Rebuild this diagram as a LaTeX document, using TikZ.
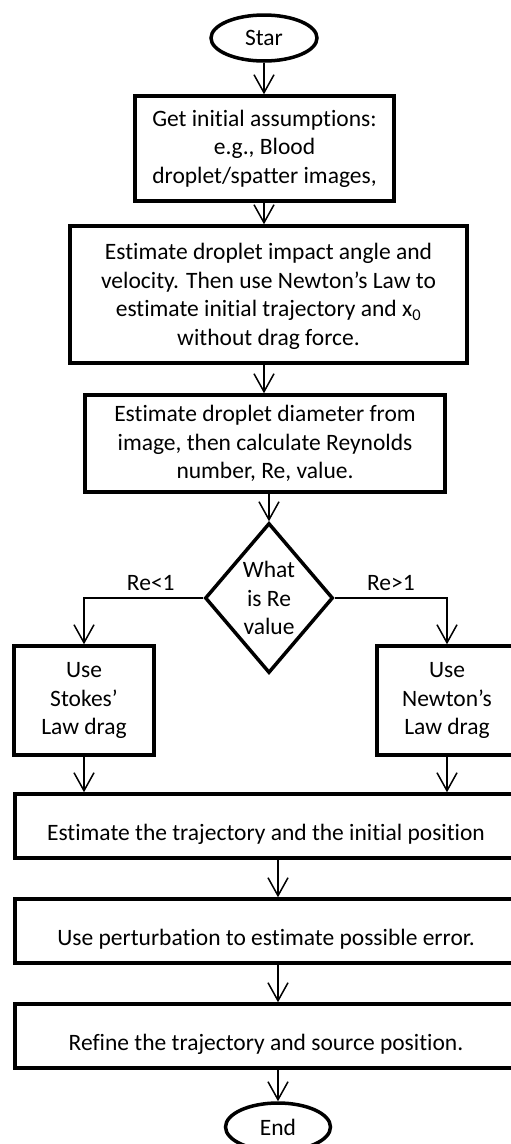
\documentclass[tikz,border=0pt]{standalone}
\usepackage{fontspec}
\setmainfont{Carlito}[Ligatures=NoCommon]
\usetikzlibrary{shapes.geometric,arrows.meta}

\begin{document}
\begin{tikzpicture}[x=1pt,y=-1pt,
  font=\fontsize{23.5}{28.5}\selectfont,
  >={Straight Barb[length=18pt,width=20pt]},
  flow/.style={->,line width=1.5pt},
  procbox/.style={draw,line width=3.5pt,align=center,inner sep=0pt},
  termbox/.style={draw,ellipse,line width=3.5pt,inner sep=0pt},
  lowtext/.style={text height=28pt,text depth=0pt}]
  \useasboundingbox[fill=white] (0,0) rectangle (511,1144);
  \clip (0,0) rectangle (511,1144);
  % main column
  \node[termbox,minimum width=106pt,minimum height=46pt] (start) at (264,38) {Star};
  \node[procbox,minimum width=259pt,minimum height=105pt] (assume) at (264.5,148.5)
    {Get initial assumptions:\\e.g., Blood\\droplet/spatter images,};
  \node[procbox,text depth=-12pt,minimum width=397pt,minimum height=137pt] (angle) at (268.5,294.5)
    {Estimate droplet impact angle and\\velocity. Then use Newton’s Law to\\estimate initial trajectory and x\textsubscript{0}\\without drag force.};
  \node[procbox,minimum width=360pt,minimum height=97pt] (diam) at (265,443.5)
    {Estimate droplet diameter from\\image, then calculate Reynolds\\number, Re, value.};
  \node[draw,diamond,line width=3.5pt,minimum width=128pt,minimum height=150pt,
    aspect=0.85,inner sep=0pt,align=center] (revalue) at (269,598) {What\\is Re\\value};
  % the two drag laws
  \node[procbox,minimum width=140pt,minimum height=109pt] (stokes) at (84,700.5)
    {Use\\Stokes’\\Law drag};
  \node[procbox,minimum width=140pt,minimum height=109pt] (newton) at (447,700.5)
    {Use\\Newton’s\\Law drag};
  % wide steps
  \node[procbox,lowtext,minimum width=502pt,minimum height=64pt] (traj) at (266,826)
    {Estimate the trajectory and the initial position};
  \node[procbox,lowtext,minimum width=502pt,minimum height=64pt] (pert) at (266,931)
    {Use perturbation to estimate possible error.};
  \node[procbox,lowtext,minimum width=502pt,minimum height=64pt] (refine) at (266,1036)
    {Refine the trajectory and source position.};
  \node[termbox,minimum width=105pt,minimum height=48pt] (finish) at (278,1127) {End};

  \draw[flow] (start.south) -- (start.south |- assume.north);
  \draw[flow] (assume.south -| start) -- (angle.north -| start);
  \draw[flow] (angle.south -| start) -- (diam.north -| start);
  \draw[flow] (diam.south -| revalue.north) -- (revalue.north);
  \draw[flow] (revalue.west) -| node[pos=0.22,above=3pt]{Re<1} (stokes.north);
  \draw[flow] (revalue.east) -| node[pos=0.25,above=3pt]{Re>1} (newton.north);
  \draw[flow] (stokes.south) -- (stokes.south |- traj.north);
  \draw[flow] (newton.south) -- (newton.south |- traj.north);
  \draw[flow] (traj.south -| finish) -- (pert.north -| finish);
  \draw[flow] (pert.south -| finish) -- (refine.north -| finish);
  \draw[flow] (refine.south -| finish) -- (finish.north);
\end{tikzpicture}
\end{document}
